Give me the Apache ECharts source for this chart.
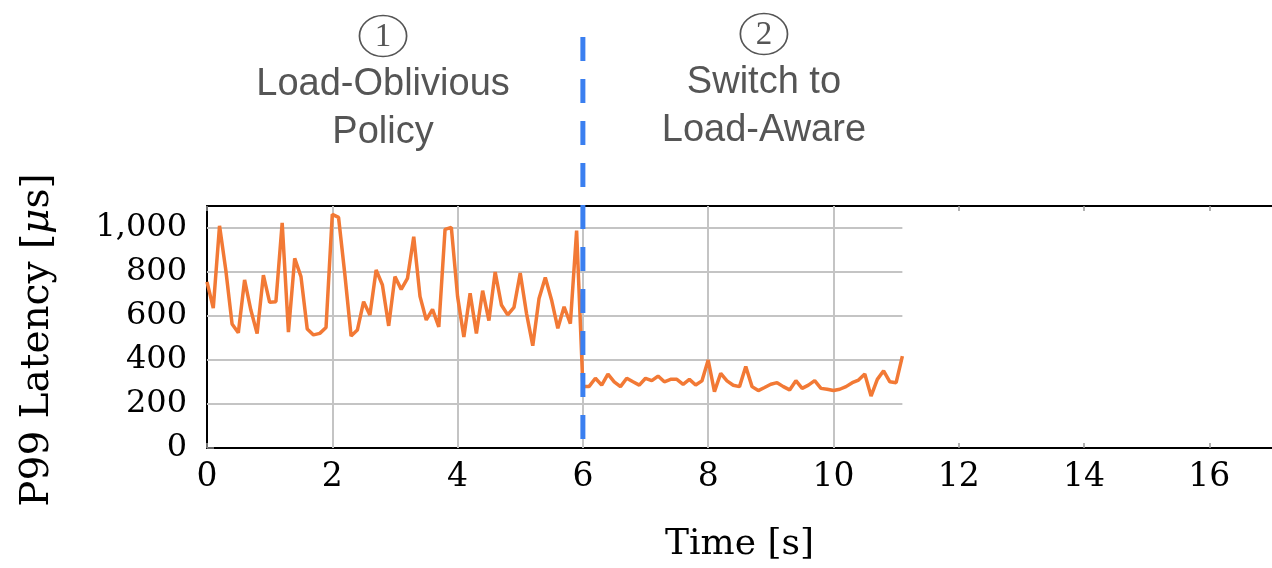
<!DOCTYPE html>
<html>
<head>
<meta charset="utf-8">
<script src="https://cdn.jsdelivr.net/npm/echarts@6/dist/echarts.min.js"></script>
<style>
html,body{margin:0;padding:0;background:#fff;}
#chart{width:1272px;height:568px;}
</style>
</head>
<body>
<div id="chart"></div>
<script>
// ---- data ----
const times = [
  0.0,0.1,0.2,0.3,0.4,0.5,0.6,0.7,0.8,0.9,
  1.0,1.1,1.2,1.3,1.4,1.5,1.6,1.7,1.8,1.9,
  2.0,2.1,2.2,2.3,2.4,2.5,2.6,2.7,2.8,2.9,
  3.0,3.1,3.2,3.3,3.4,3.5,3.6,3.7,3.8,3.9,
  4.0,4.1,4.2,4.3,4.4,4.5,4.6,4.7,4.8,4.9,
  5.0,5.1,5.2,5.3,5.4,5.5,5.6,5.7,5.8,5.9,
  6.0,6.1,6.2,6.3,6.4,6.5,6.6,6.7,6.8,6.9,
  7.0,7.1,7.2,7.3,7.4,7.5,7.6,7.7,7.8,7.9,
  8.0,8.1,8.2,8.3,8.4,8.5,8.6,8.7,8.8,8.9,
  9.0,9.1,9.2,9.3,9.4,9.5,9.6,9.7,9.8,9.9,
  10.0,10.1,10.2,10.3,10.4,10.5,10.6,10.7,10.8,10.9,
  11.0,11.1
];
const latencyOblivious = [
  755,636,1010,809,564,524,764,627,520,786,
  662,665,1023,527,862,779,541,514,521,548,
  1062,1048,790,509,536,665,605,809,741,555,
  779,721,771,960,689,582,630,550,994,1003,
  688,505,703,521,715,579,800,650,605,639,
  795,612,465,680,775,673,544,642,565,988
];
const latencyAware = [
  280,280,317,286,336,301,279,317,301,286,
  317,306,327,301,312,312,289,312,286,305,
  400,256,339,305,285,279,370,279,261,275,
  290,297,279,264,306,271,286,306,271,267,
  261,267,279,297,309,336,236,312,351,301,
  297,418
];
const latency = latencyOblivious.concat(latencyAware);
const xTicks = [0,2,4,6,8,10,12,14,16];
const yTicks = [0,200,400,600,800,1000];
const gridXTicks = [2,4,6,8,10];
const gridYTicks = [200,400,600,800,1000];
const switchTime = 6;
const annotations = [
  {num:'1', lines:['Load-Oblivious','Policy'], t:2.81, top:36},
  {num:'2', lines:['Switch to','Load-Aware'], t:8.89, top:34}
];

const xMin = 0, xMax = 17, yMin = 0, yMax = 1100;
const dataEnd = times[times.length-1];

const chart = echarts.init(document.getElementById('chart'), null, {renderer:'canvas'});

const gridLineData = [];
gridYTicks.forEach(v => gridLineData.push([{coord:[0, v]},{coord:[dataEnd, v]}]));
gridXTicks.forEach(v => gridLineData.push([{coord:[v, yMin]},{coord:[v, yMax]}]));

const serif = 'DejaVu Serif';
const option = {
  animation: false,
  grid: {left:207, right:0, top:206, bottom:120, show:false},
  xAxis: [{
    type:'value', min:xMin, max:xMax, interval:2,
    axisLine:{show:true, onZero:false, lineStyle:{color:'#000', width:2}},
    axisTick:{show:true, inside:true, length:5, customValues:xTicks, lineStyle:{color:'#999', width:1.5}},
    axisLabel:{show:true, fontFamily:serif, fontSize:33, color:'#000', margin:13, customValues:xTicks,
      formatter: v => String(v)},
    splitLine:{show:false},
    name:'Time [s]', nameLocation:'middle', nameGap:79,
    nameTextStyle:{fontFamily:serif, fontSize:36, color:'#000'}
  },{
    type:'value', position:'top', min:xMin, max:xMax, interval:2,
    axisLine:{show:true, onZero:false, lineStyle:{color:'#000', width:2}},
    axisTick:{show:true, inside:true, length:5, customValues:xTicks, lineStyle:{color:'#999', width:1.5}},
    axisLabel:{show:false}, splitLine:{show:false}
  }],
  yAxis: [{
    type:'value', min:yMin, max:yMax, interval:200,
    axisLine:{show:true, onZero:false, lineStyle:{color:'#000', width:2}},
    axisTick:{show:true, inside:true, length:7, customValues:yTicks, lineStyle:{color:'#888', width:1.5}},
    axisLabel:{show:true, fontFamily:serif, fontSize:32, color:'#000', margin:20, customValues:yTicks,
      formatter: v => Number(v).toLocaleString('en-US')},
    splitLine:{show:false},
    name:'P99 Latency [{i|μ}s]', nameLocation:'middle', nameRotate:90, nameGap:150,
    nameTextStyle:{fontFamily:serif, fontSize:39, color:'#000', padding:[0,26,0,0],
      rich:{i:{fontFamily:serif, fontSize:39, fontStyle:'italic', color:'#000'}}}
  }],
  series: [{
    type:'line', data:[], silent:true,
    markLine:{silent:true, symbol:['none','none'], label:{show:false},
      lineStyle:{color:'#c4c4c4', width:2, type:'solid'}, animation:false,
      data: gridLineData}
  },{
    type:'line', name:'P99', showSymbol:false, symbol:'none', clip:false,
    lineStyle:{color:'#f27935', width:3.5}, z:5,
    data: times.map((t,i) => [t, latency[i]])
  }]
};
chart.setOption(option);

// overlays: switch marker and annotations placed via the axis scales
const pBottom = chart.convertToPixel({xAxisIndex:0, yAxisIndex:0}, [switchTime, yMin]);
const gfx = [{
  type:'line', z:100,
  shape:{x1:pBottom[0], y1:37, x2:pBottom[0], y2:pBottom[1]},
  style:{stroke:'#3a7ff0', lineWidth:5, lineDash:[24,18]}
}];
annotations.forEach((a) => {
  const cx = chart.convertToPixel({xAxisIndex:0}, a.t);
  const cy = a.top;
  gfx.push({type:'circle', z:100, x:cx, y:cy, scaleX:1.15, scaleY:1,
    shape:{cx:0, cy:0, r:20.5}, style:{fill:'none', stroke:'#555', lineWidth:1.5}});
  gfx.push({type:'text', z:100, x:cx, y:cy+1,
    style:{text:a.num, font:'33px "Liberation Serif"', fill:'#555', align:'center', verticalAlign:'middle'}});
  a.lines.forEach((ln, j) => {
    gfx.push({type:'text', z:100, x:cx, y:cy + 49 + j*48,
      style:{text:ln, font:'38px "Liberation Sans"', fill:'#555', align:'center', verticalAlign:'middle'}});
  });
});
chart.setOption({graphic: gfx});
</script>
</body>
</html>
